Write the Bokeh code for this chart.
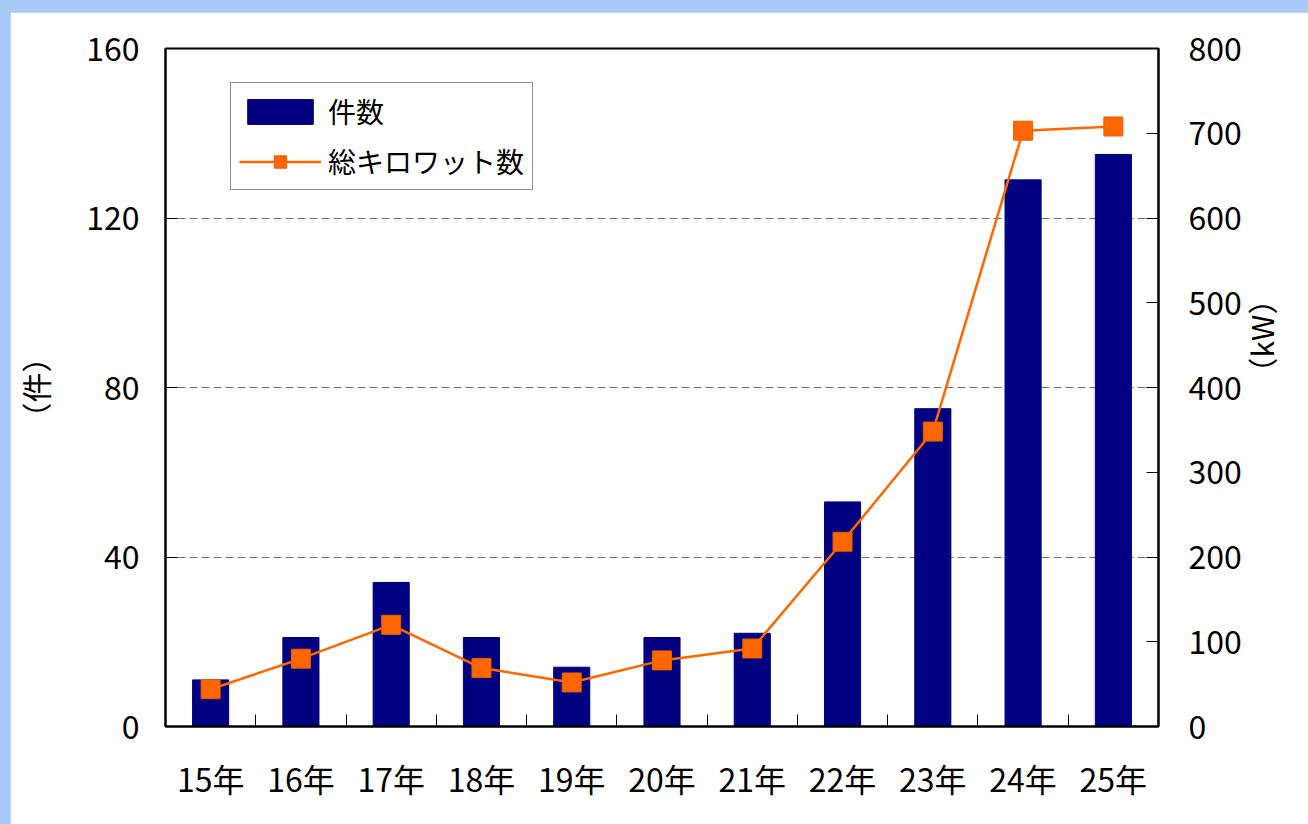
import math
from bokeh.plotting import figure
from bokeh.models import (Range1d, LinearAxis, FixedTicker, Legend, LegendItem,
                          ColumnDataSource)
from bokeh.embed import file_html
from bokeh.resources import INLINE

# ---- data ----
years = ["15年", "16年", "17年", "18年", "19年", "20年", "21年", "22年", "23年", "24年", "25年"]
counts = [11, 21, 34, 21, 14, 21, 22, 53, 75, 129, 135]
kilowatts = [44, 80, 120, 69, 52, 78, 92, 218, 348, 703, 708]
left_ticks = [0, 40, 80, 120, 160]
right_ticks = [0, 100, 200, 300, 400, 500, 600, 700, 800]
count_label = "件数"
kw_label = "総キロワット数"
left_axis_label = "（件）"
right_axis_label = "（kW）"

FONT = "Noto Sans CJK JP"
NAVY = "#000080"
ORANGE = "#FF6600"

xs = list(range(len(years)))
src = ColumnDataSource(dict(x=xs, year=years, count=counts, kw=kilowatts))

p = figure(width=1298, height=812,
           min_border_left=153, min_border_right=150,
           min_border_top=36, min_border_bottom=98,
           x_range=Range1d(-0.5, len(years) - 0.5),
           y_range=Range1d(left_ticks[0], left_ticks[-1]),
           output_backend="svg", toolbar_location=None, tools="")
p.extra_y_ranges = {"kw": Range1d(right_ticks[0], right_ticks[-1])}

p.background_fill_color = "white"
p.border_fill_color = "white"
p.outline_line_color = "black"
p.outline_line_width = 2

# grid
p.xgrid.grid_line_color = None
p.ygrid.grid_line_color = "#707070"
p.ygrid.grid_line_width = 1
p.ygrid.grid_line_dash = "8 4"
p.ygrid.ticker = FixedTicker(ticks=left_ticks)

# x axis
xa = p.xaxis[0]
xa.ticker = FixedTicker(ticks=xs, minor_ticks=[i + 0.5 for i in xs[:-1]])
xa.major_label_overrides = {i: y for i, y in zip(xs, years)}
xa.major_tick_in = 0
xa.major_tick_out = 0
xa.minor_tick_in = 12
xa.minor_tick_out = 0
xa.minor_tick_line_color = "black"
xa.minor_tick_line_width = 1
xa.axis_line_color = "black"
xa.axis_line_width = 2
xa.major_label_text_font = FONT
xa.major_label_text_font_size = "32px"
xa.major_label_text_color = "black"
xa.major_label_standoff = 28

# left axis
ya = p.yaxis[0]
ya.ticker = FixedTicker(ticks=left_ticks)
ya.major_tick_in = 12
ya.major_tick_out = 0
ya.minor_tick_in = 0
ya.minor_tick_out = 0
ya.major_tick_line_color = "black"
ya.axis_line_color = "black"
ya.axis_line_width = 2
ya.major_label_text_font = FONT
ya.major_label_text_font_size = "32px"
ya.major_label_text_color = "black"
ya.major_label_standoff = 26
ya.axis_label = left_axis_label
ya.axis_label_text_font = FONT
ya.axis_label_text_font_size = "30px"
ya.axis_label_text_font_style = "normal"
ya.axis_label_text_color = "black"
ya.axis_label_standoff = 26

# right axis
ra = LinearAxis(y_range_name="kw", ticker=FixedTicker(ticks=right_ticks))
ra.major_tick_in = 12
ra.major_tick_out = 0
ra.minor_tick_in = 0
ra.minor_tick_out = 0
ra.major_tick_line_color = "black"
ra.axis_line_color = "black"
ra.axis_line_width = 2
ra.major_label_text_font = FONT
ra.major_label_text_font_size = "32px"
ra.major_label_text_color = "black"
ra.major_label_standoff = 30
ra.axis_label = right_axis_label
ra.axis_label_text_font = FONT
ra.axis_label_text_font_size = "30px"
ra.axis_label_text_font_style = "normal"
ra.axis_label_text_color = "black"
ra.axis_label_standoff = 16
ra.axis_label_orientation = math.pi / 2
p.add_layout(ra, "right")

# glyphs
bars = p.vbar(x="x", top="count", width=0.4, source=src,
              fill_color=NAVY, line_color=NAVY)
line = p.line(x="x", y="kw", source=src, y_range_name="kw",
              line_color=ORANGE, line_width=2.5)
pts = p.scatter(x="x", y="kw", source=src, y_range_name="kw", marker="square",
                size=19, fill_color=ORANGE, line_color="#E85E00", line_width=1)

legend = Legend(items=[LegendItem(label=count_label, renderers=[bars]),
                       LegendItem(label=kw_label, renderers=[line, pts])],
                location=(65, 536))
legend.glyph_width = 82
legend.glyph_height = 31
legend.label_height = 31
legend.spacing = 10
legend.padding = 8
legend.margin = 0
legend.label_standoff = 7
legend.label_text_font = FONT
legend.label_text_font_size = "28px"
legend.label_text_color = "black"
legend.border_line_color = "#222222"
legend.border_line_width = 1.5
legend.background_fill_color = "white"
legend.background_fill_alpha = 1
p.add_layout(legend)

html = file_html(p, INLINE)
css = ("<style>html,body{margin:0 !important;padding:0 !important;}"
       "body{background-color:#a9c9f7;padding:12px 0 0 10px !important;"
       "box-sizing:border-box;overflow:hidden;}</style>")
html = html.replace("</head>", css + "</head>", 1)
open("out.html", "w").write(html)
